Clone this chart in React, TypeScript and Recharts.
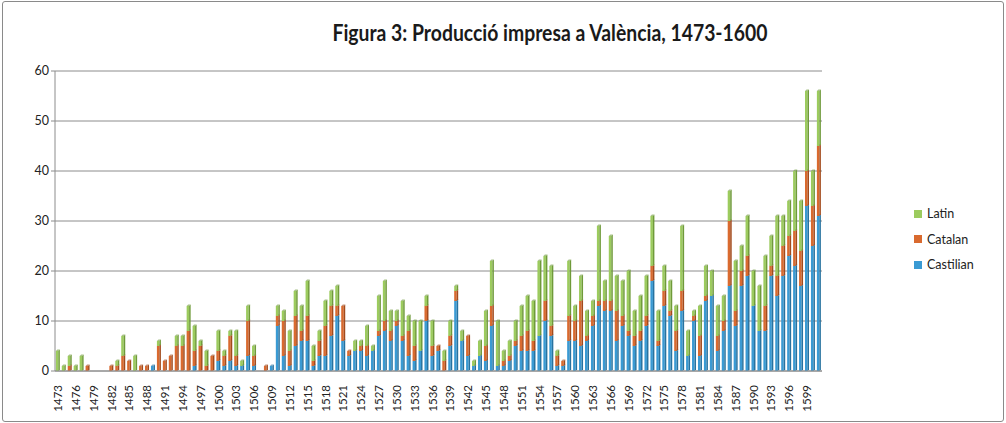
import { BarChart, Bar, XAxis, YAxis, CartesianGrid, Legend } from "recharts";

// one category per year; the last two bars carry no visible label
const years = [
  1473, 1474, 1475, 1476, 1477, 1478, 1479, 1480, 1481, 1482, 1483, 1484, 1485, 1486, 1487, 1488,
  1489, 1490, 1491, 1492, 1493, 1494, 1495, 1496, 1497, 1498, 1499, 1500, 1501, 1502, 1503, 1504,
  1505, 1506, 1507, 1508, 1509, 1510, 1511, 1512, 1513, 1514, 1515, 1516, 1517, 1518, 1519, 1520,
  1521, 1522, 1523, 1524, 1525, 1526, 1527, 1528, 1529, 1530, 1531, 1532, 1533, 1534, 1535, 1536,
  1537, 1538, 1539, 1540, 1541, 1542, 1543, 1544, 1545, 1546, 1547, 1548, 1549, 1550, 1551, 1552,
  1553, 1554, 1555, 1556, 1557, 1558, 1559, 1560, 1561, 1562, 1563, 1564, 1565, 1566, 1567, 1568,
  1569, 1570, 1571, 1572, 1573, 1574, 1575, 1576, 1577, 1578, 1579, 1580, 1581, 1582, 1583, 1584,
  1585, 1586, 1587, 1588, 1589, 1590, 1591, 1592, 1593, 1594, 1595, 1596, 1597, 1598, 1599, 1600,
  1601,
];

const castilian = [
  0, 0, 0, 0, 0, 0, 0, 0, 0, 0, 0, 0, 0, 0, 0, 0,
  1, 0, 0, 0, 0, 0, 0, 1, 0, 0, 0, 2, 1, 2, 1, 1,
  3, 1, 0, 0, 1, 9, 3, 1, 5, 6, 6, 1, 3, 3, 7, 11,
  6, 3, 4, 4, 3, 4, 7, 8, 6, 9, 6, 3, 2, 4, 10, 3,
  4, 0, 5, 14, 6, 3, 1, 3, 2, 9, 1, 1, 2, 5, 4, 4,
  4, 7, 10, 7, 1, 1, 6, 6, 5, 6, 9, 13, 12, 12, 6, 9,
  7, 5, 6, 9, 18, 5, 13, 11, 4, 12, 3, 10, 3, 14, 15, 4,
  8, 17, 9, 17, 19, 13, 8, 8, 19, 15, 19, 23, 21, 17, 33, 25,
  31,
];

const catalan = [
  0, 0, 1, 0, 0, 1, 0, 0, 0, 1, 1, 3, 2, 0, 1, 1,
  0, 5, 2, 3, 5, 5, 8, 3, 5, 1, 3, 2, 2, 5, 2, 0,
  7, 2, 0, 1, 0, 2, 7, 3, 6, 2, 5, 1, 3, 6, 6, 2,
  7, 1, 0, 1, 2, 0, 1, 2, 2, 1, 1, 5, 3, 0, 3, 2,
  1, 2, 2, 2, 0, 4, 0, 0, 3, 4, 0, 1, 1, 1, 3, 4,
  2, 0, 4, 2, 2, 1, 5, 4, 9, 1, 2, 1, 2, 2, 6, 2,
  1, 2, 2, 2, 3, 1, 3, 1, 4, 4, 0, 1, 4, 1, 0, 3,
  2, 13, 3, 3, 4, 0, 0, 5, 2, 4, 6, 4, 7, 7, 7, 8,
  14,
];

const latin = [
  4, 1, 2, 1, 3, 0, 0, 0, 0, 0, 1, 4, 0, 3, 0, 0,
  0, 1, 0, 0, 2, 2, 5, 5, 1, 3, 0, 4, 1, 1, 5, 1,
  3, 2, 0, 0, 0, 2, 2, 4, 5, 5, 7, 3, 2, 5, 3, 4,
  0, 0, 2, 1, 4, 1, 7, 8, 4, 2, 7, 3, 5, 6, 2, 5,
  0, 2, 3, 1, 2, 0, 1, 3, 7, 9, 9, 2, 3, 4, 6, 7,
  8, 15, 9, 12, 1, 0, 11, 3, 5, 5, 3, 15, 4, 13, 7, 7,
  12, 5, 7, 8, 10, 6, 5, 6, 5, 13, 5, 1, 6, 6, 5, 6,
  5, 6, 10, 5, 8, 7, 9, 10, 6, 12, 6, 7, 12, 10, 16, 7,
  11,
];

const yTicks = [0, 10, 20, 30, 40, 50, 60];

const data = years.map((y, i) => ({
  year: String(y),
  Castilian: castilian[i],
  Catalan: catalan[i],
  Latin: latin[i],
}));

const COLORS = {
  Castilian: ["#3a9ad3", "#27729f"],
  Catalan: ["#d96a2f", "#a24a1c"],
  Latin: ["#9ccb5e", "#6f9a3a"],
};

const font = "Lato, 'Liberation Sans', sans-serif";

function makeShape(fill: string, dark: string) {
  return (props: any) => {
    const { x, y, width, height } = props;
    if (!height || height <= 0) return <g />;
    const d = 1.5;
    return (
      <g>
        <rect x={x} y={y} width={width - d} height={height} fill={fill} />
        <polygon
          points={`${x + width - d},${y} ${x + width},${y - d} ${x + width},${y + height - d} ${x + width - d},${y + height}`}
          fill={dark}
        />
        <polygon
          points={`${x},${y} ${x + d},${y - d} ${x + width},${y - d} ${x + width - d},${y}`}
          fill={dark}
          opacity={0.6}
        />
      </g>
    );
  };
}

const YearTick = (props: any) => {
  const { x, y, payload } = props;
  return (
    <text
      transform={`translate(${x},${y + 6}) rotate(-90)`}
      textAnchor="end"
      dy="0.35em"
      fontSize={11.5}
      fill="#222"
      fontFamily={font}
    >
      {payload.value}
    </text>
  );
};

const renderLegend = () => {
  const items = ["Latin", "Catalan", "Castilian"] as const;
  return (
    <div style={{ fontFamily: font, fontSize: 12.5, color: "#222" }}>
      {items.map((k) => (
        <div key={k} style={{ display: "flex", alignItems: "center", height: 25.5 }}>
          <span
            style={{ display: "inline-block", width: 8, height: 8, background: COLORS[k][0], marginRight: 5 }}
          />
          {k}
        </div>
      ))}
    </div>
  );
};

export default function App() {
  return (
    <div
      style={{
        position: "absolute",
        left: 0,
        top: 0,
        width: 1006,
        height: 423,
        background: "#fff",
        fontFamily: font,
      }}
    >
      <div
        style={{
          position: "absolute",
          left: 2,
          top: 1,
          width: 1000,
          height: 419,
          border: "1px solid #8a8a8a",
          borderRadius: 3,
        }}
      />
      <svg style={{ position: "absolute", left: 0, top: 0 }} width={1006} height={60}>
        <text
          x={550}
          y={41}
          textAnchor="middle"
          fontSize={23}
          fontWeight="bold"
          fontFamily={font}
          fill="#1a1a1a"
          textLength={435}
          lengthAdjust="spacingAndGlyphs"
        >
          Figura 3: Producció impresa a València, 1473-1600
        </text>
      </svg>
      <div style={{ position: "absolute", left: 0, top: 0 }}>
        <BarChart
          width={1006}
          height={423}
          data={data}
          margin={{ top: 71, right: 94, left: 15, bottom: 7 }}
          barCategoryGap="14%"
        >
          <CartesianGrid vertical={false} stroke="#8c8c8c" />
          <XAxis
            dataKey="year"
            interval={2}
            tick={<YearTick />}
            tickLine={false}
            axisLine={{ stroke: "#8c8c8c" }}
            height={45}
          />
          <YAxis
            domain={[0, 60]}
            ticks={yTicks}
            width={40}
            tickLine={{ stroke: "#8c8c8c" }}
            tickSize={4}
            axisLine={{ stroke: "#8c8c8c" }}
            tick={{ fontSize: 12.5, fill: "#222", fontFamily: font }}
          />
          <Legend
            content={renderLegend}
            layout="vertical"
            verticalAlign="top"
            align="right"
            wrapperStyle={{ left: 914, top: 201, width: 90 }}
          />
          <Bar dataKey="Castilian" stackId="a" fill={COLORS.Castilian[0]} isAnimationActive={false}
            shape={makeShape(COLORS.Castilian[0], COLORS.Castilian[1])} />
          <Bar dataKey="Catalan" stackId="a" fill={COLORS.Catalan[0]} isAnimationActive={false}
            shape={makeShape(COLORS.Catalan[0], COLORS.Catalan[1])} />
          <Bar dataKey="Latin" stackId="a" fill={COLORS.Latin[0]} isAnimationActive={false}
            shape={makeShape(COLORS.Latin[0], COLORS.Latin[1])} />
        </BarChart>
      </div>
    </div>
  );
}
